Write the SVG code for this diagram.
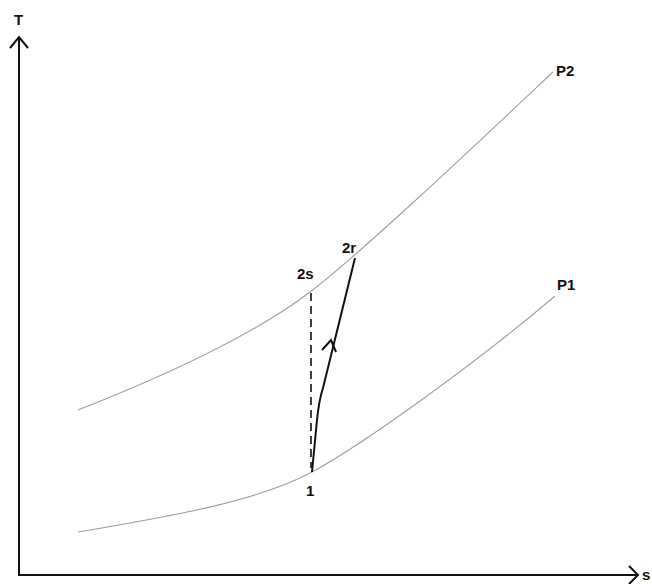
<svg xmlns="http://www.w3.org/2000/svg" width="652" height="584" viewBox="0 0 652 584">
<style>
.axis{stroke:#111;stroke-width:2;fill:none}
.curve{stroke:#a0a0a0;stroke-width:1.1;fill:none}
.proc{stroke:#111;stroke-width:2;fill:none}
.dash{stroke:#111;stroke-width:1.6;fill:none;stroke-dasharray:8,5}
text{font-family:"Liberation Sans",Arial,sans-serif;font-weight:bold;font-size:15px;fill:#111}
</style>
<rect width="652" height="584" fill="#fff"/>
<g id="axes">
<path class="axis" d="M19,576 V37 M10,48 L19,37 L28,48"/>
<path class="axis" d="M19,575 H638 M629,566 L638,575 L629,584"/>
<text x="14" y="25" font-size="12">T</text>
<text x="642" y="580" font-size="11">s</text>
</g>
<g id="P2">
<path class="curve" d="M78,410 C180,370 260,330 310,292 S470,150 553,72"/>
<text x="556" y="76">P2</text>
</g>
<g id="P1">
<path class="curve" d="M78,532 C180,515 260,500 312,472 S480,360 555,296"/>
<text x="557" y="290">P1</text>
</g>
<g id="connectors">
<path class="dash" d="M311,293 V468"/>
<path class="proc" d="M312,472 L317,420 Q319,400 323,388 L355,258"/>
<path class="proc" d="M322,350 L331,340 L336,352"/>
</g>
<g id="labels">
<text x="297" y="279">2s</text>
<text x="342" y="253">2r</text>
<text x="306" y="496">1</text>
</g>
</svg>
